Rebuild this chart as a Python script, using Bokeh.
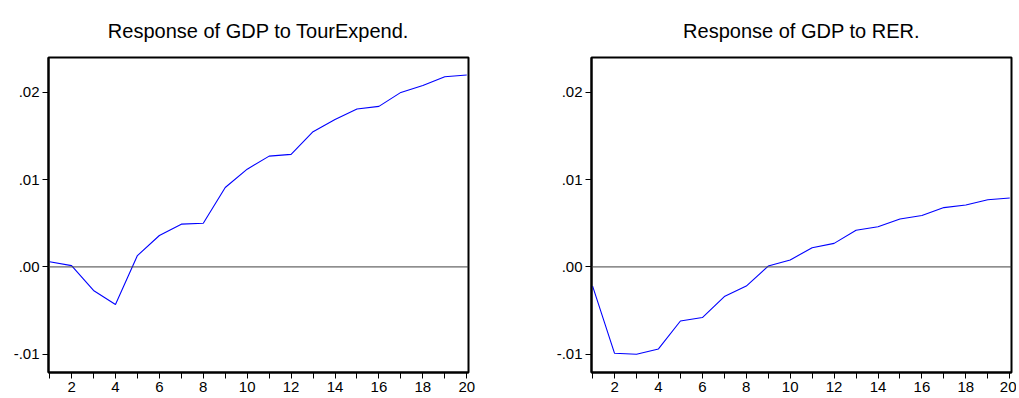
from bokeh.plotting import figure
from bokeh.layouts import row
from bokeh.models import FixedTicker, Span, Range1d
from bokeh.embed import file_html
from bokeh.resources import INLINE

periods = list(range(1, 21))
tour_expend = [0.0006, 0.00015, -0.0027, -0.0043, 0.0013, 0.0036, 0.0049, 0.0050,
               0.0091, 0.0112, 0.0127, 0.0129, 0.0155, 0.0169, 0.0181, 0.0184,
               0.0200, 0.0208, 0.0218, 0.0220]
rer = [-0.0022, -0.0099, -0.0100, -0.0094, -0.0062, -0.0058, -0.0034, -0.0022,
       0.0001, 0.0008, 0.0022, 0.0027, 0.0042, 0.0046, 0.0055, 0.0059,
       0.0068, 0.0071, 0.0077, 0.0079]
titles = ["Response of GDP to TourExpend.", "Response of GDP to RER."]
y_ticks = [-0.01, 0.0, 0.01, 0.02]
y_labels = ["-.01", ".00", ".01", ".02"]
x_ticks = list(range(1, 21))
x_labels = [str(t) if t % 2 == 0 else "" for t in x_ticks]

FONT = "Liberation Sans"


def make(title, ys, border_left, border_right):
    p = figure(output_backend="svg", toolbar_location=None,
               frame_width=420, frame_height=315,
               min_border_left=border_left, min_border_right=border_right,
               min_border_top=57, min_border_bottom=26,
               x_range=Range1d(0.95, 20.08), y_range=Range1d(-0.0121, 0.0240),
               title=title)
    p.title.align = "center"
    p.title.text_font = FONT
    p.title.text_font_size = "20px"
    p.title.text_font_style = "normal"
    p.title.text_color = "black"
    p.title.standoff = 32
    p.grid.visible = False
    p.outline_line_color = "black"
    p.outline_line_width = 2
    p.outline_line_alpha = 1

    for ax in (p.xaxis[0], p.yaxis[0]):
        ax.axis_line_color = "black"
        ax.axis_line_width = 2
        ax.major_tick_line_color = "black"
        ax.major_tick_line_width = 1
        ax.major_tick_in = 0
        ax.major_tick_out = 6
        ax.minor_tick_line_color = None
        ax.major_label_text_font = FONT
        ax.major_label_text_font_size = "15px"
        ax.major_label_text_color = "black"
        ax.major_label_standoff = 3

    p.xaxis.ticker = FixedTicker(ticks=x_ticks)
    p.xaxis.major_label_overrides = {t: l for t, l in zip(x_ticks, x_labels)}
    p.yaxis.ticker = FixedTicker(ticks=y_ticks)
    p.yaxis.major_label_overrides = {t: l for t, l in zip(y_ticks, y_labels)}
    p.yaxis.major_tick_out = 6
    p.yaxis.major_label_standoff = 3

    p.add_layout(Span(location=0, dimension="width", line_color="#404040", line_width=1))
    p.line(periods, ys, line_color="#0000ff", line_width=1.1)
    return p


p1 = make(titles[0], tour_expend, 48, 41)
p2 = make(titles[1], rer, 82, 5)
layout = row(p1, p2)

open("out.html", "w").write(file_html(layout, INLINE))
